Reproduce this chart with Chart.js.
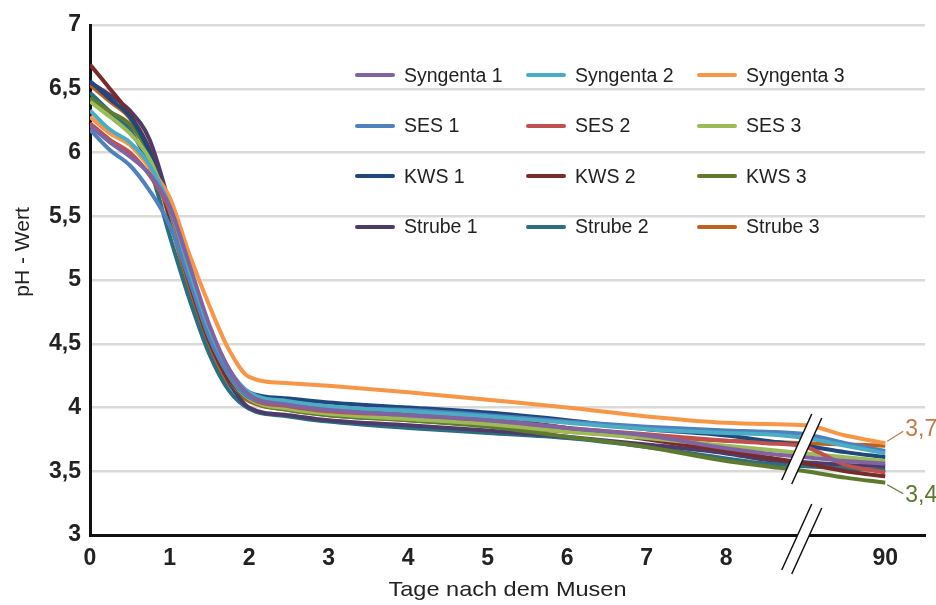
<!DOCTYPE html>
<html lang="de">
<head>
<meta charset="UTF-8">
<title>pH - Wert</title>
<script src="https://cdn.jsdelivr.net/npm/chart.js@4.4.1/dist/chart.umd.min.js"></script>
<style>
    body { margin: 0; padding: 0; background: #fff; }
    #wrap { position: relative; width: 936px; height: 605px; }
    #legend { position: absolute; left: 0; top: 0; width: 936px; height: 605px; pointer-events: none;
              font-family: "Liberation Sans", Arial, sans-serif; font-size: 19.5px; color: #222; }
    #legend .item { position: absolute; display: flex; align-items: center; white-space: nowrap; }
    #legend .swatch { width: 40px; height: 4px; border-radius: 2px; margin-right: 9px; }
</style>
</head>
<body>
<div id="wrap">
    <canvas id="myChart" width="936" height="605"></canvas>
    <div id="legend"></div>
</div>
<script>
    // x position on the broken axis: 0..8 days, 10 stands for day 90
    const dayPos = [0, 0.25, 0.5, 0.75, 1, 1.25, 1.5, 1.75, 2, 2.5, 3, 4, 5, 6, 7, 8, 8.5, 9, 9.5, 10];

    const syngenta1 = [6.21, 6.08, 5.97, 5.83, 5.58, 5.12, 4.65, 4.30, 4.10, 4.02, 3.98, 3.94, 3.90, 3.84, 3.78, 3.68, 3.64, 3.61, 3.58, 3.56];
    const syngenta2 = [6.33, 6.18, 6.08, 5.90, 5.58, 5.08, 4.62, 4.30, 4.12, 4.05, 4.01, 3.97, 3.93, 3.88, 3.83, 3.80, 3.79, 3.76, 3.70, 3.64];
    const syngenta3 = [6.28, 6.15, 6.06, 5.88, 5.65, 5.20, 4.80, 4.45, 4.24, 4.19, 4.17, 4.12, 4.06, 4.00, 3.93, 3.88, 3.87, 3.86, 3.78, 3.72];
    const ses1 = [6.18, 6.02, 5.90, 5.70, 5.43, 5.00, 4.55, 4.25, 4.08, 4.03, 4.00, 3.98, 3.94, 3.89, 3.85, 3.82, 3.81, 3.79, 3.72, 3.66];
    const ses2 = [6.23, 6.10, 6.00, 5.82, 5.55, 5.05, 4.60, 4.27, 4.08, 4.01, 3.97, 3.94, 3.90, 3.84, 3.79, 3.74, 3.72, 3.69, 3.55, 3.49];
    const ses3 = [6.40, 6.28, 6.15, 5.95, 5.55, 5.02, 4.58, 4.25, 4.07, 3.99, 3.95, 3.91, 3.87, 3.81, 3.76, 3.70, 3.67, 3.64, 3.61, 3.58];
    const kws1 = [6.56, 6.42, 6.28, 6.00, 5.52, 5.00, 4.57, 4.26, 4.12, 4.07, 4.04, 4.00, 3.96, 3.90, 3.83, 3.78, 3.74, 3.70, 3.65, 3.61];
    const kws2 = [6.69, 6.50, 6.30, 6.02, 5.50, 4.98, 4.52, 4.22, 4.10, 4.03, 3.99, 3.96, 3.92, 3.84, 3.75, 3.66, 3.61, 3.56, 3.50, 3.46];
    const kws3 = [6.43, 6.32, 6.22, 5.98, 5.52, 5.00, 4.55, 4.22, 4.06, 3.98, 3.94, 3.90, 3.85, 3.77, 3.69, 3.58, 3.54, 3.50, 3.45, 3.41];
    const strube1 = [6.55, 6.45, 6.33, 6.10, 5.60, 5.05, 4.55, 4.20, 4.00, 3.94, 3.90, 3.86, 3.82, 3.77, 3.71, 3.64, 3.59, 3.57, 3.55, 3.54];
    const strube2 = [6.47, 6.32, 6.18, 5.88, 5.35, 4.85, 4.42, 4.13, 3.99, 3.93, 3.89, 3.84, 3.80, 3.76, 3.69, 3.60, 3.56, 3.54, 3.52, 3.51];
    const strube3 = [6.53, 6.40, 6.27, 5.98, 5.48, 4.92, 4.48, 4.18, 4.05, 3.98, 3.94, 3.90, 3.86, 3.81, 3.77, 3.74, 3.73, 3.72, 3.71, 3.70];

    const seriesNames = ['Syngenta 1', 'Syngenta 2', 'Syngenta 3', 'SES 1', 'SES 2', 'SES 3',
                         'KWS 1', 'KWS 2', 'KWS 3', 'Strube 1', 'Strube 2', 'Strube 3'];
    const seriesValues = [syngenta1, syngenta2, syngenta3, ses1, ses2, ses3, kws1, kws2, kws3, strube1, strube2, strube3];
    const seriesColors = ['#8064a2', '#4bacc6', '#f79646', '#4f81bd', '#c0504d', '#9bbb59',
                          '#1f497d', '#772c2a', '#5f7a2e', '#4d3b6b', '#2a6f80', '#c0601a'];

    const xTickPos = [0, 1, 2, 3, 4, 5, 6, 7, 8, 10];
    const xTickLabels = ['0', '1', '2', '3', '4', '5', '6', '7', '8', '90'];
    const xTitle = 'Tage nach dem Musen';
    const yTitle = 'pH - Wert';
    const endLabels = [{ text: '3,7', value: 3.72, color: '#c47a45' }, { text: '3,4', value: 3.41, color: '#5b7a2a' }];

    const fontFamily = '"Liberation Sans", Arial, sans-serif';

    const datasets = seriesNames.map((name, i) => ({
        label: name,
        data: seriesValues[i].map((v, j) => ({ x: dayPos[j], y: v })),
        borderColor: seriesColors[i],
        backgroundColor: seriesColors[i],
        borderWidth: 4,
        pointRadius: 0,
        cubicInterpolationMode: 'monotone',
        fill: false
    }));

    // axis break marks, axis titles and end value labels
    const extras = {
        id: 'extras',
        afterDraw(chart) {
            const ctx = chart.ctx;
            const x = chart.scales.x, y = chart.scales.y;
            const area = chart.chartArea;
            ctx.save();

            // axis titles
            ctx.fillStyle = '#222';
            ctx.textAlign = 'center';
            ctx.textBaseline = 'middle';
            ctx.font = '21px ' + fontFamily;
            ctx.save();
            ctx.translate((area.left + area.right) / 2, 590);
            ctx.scale(1.12, 1);
            ctx.fillText(xTitle, 0, 0);
            ctx.restore();
            ctx.save();
            ctx.translate(23, 252);
            ctx.rotate(-Math.PI / 2);
            ctx.fillText(yTitle, 0, 0);
            ctx.restore();

            // break marks
            const bx = x.getPixelForValue(8.95);
            const drawBreak = (cy, h) => {
                const a1 = [bx + 10, cy - h], a2 = [bx - 20, cy + h];
                const b1 = [a1[0] + 10, a1[1] + 4], b2 = [a2[0] + 10, a2[1] + 4];
                ctx.beginPath();
                ctx.moveTo(a1[0], a1[1]); ctx.lineTo(b1[0], b1[1]);
                ctx.lineTo(b2[0], b2[1]); ctx.lineTo(a2[0], a2[1]);
                ctx.closePath();
                ctx.fillStyle = '#fff';
                ctx.fill();
                ctx.strokeStyle = '#111';
                ctx.lineWidth = 1.5;
                ctx.beginPath();
                ctx.moveTo(a1[0], a1[1]); ctx.lineTo(a2[0], a2[1]);
                ctx.moveTo(b1[0], b1[1]); ctx.lineTo(b2[0], b2[1]);
                ctx.stroke();
            };
            drawBreak(y.getPixelForValue(3.69), 33);
            drawBreak(y.getPixelForValue(3) + 2, 33);

            // end labels at day 90
            const ex = x.getPixelForValue(10);
            ctx.textAlign = 'left';
            ctx.font = '23px ' + fontFamily;
            endLabels.forEach((lab, i) => {
                const py = y.getPixelForValue(lab.value);
                const ty = i === 0 ? py - 14 : py + 13;
                ctx.strokeStyle = lab.color;
                ctx.lineWidth = 1.2;
                ctx.beginPath();
                ctx.moveTo(ex + 2, py + (i === 0 ? -2 : 2));
                ctx.lineTo(ex + 18, ty + (i === 0 ? 2 : -2));
                ctx.stroke();
                ctx.fillStyle = lab.color;
                ctx.fillText(lab.text, ex + 20, ty);
            });
            ctx.restore();
        }
    };

    const ctx = document.getElementById('myChart').getContext('2d');
    const myChart = new Chart(ctx, {
        type: 'line',
        data: { datasets: datasets },
        options: {
            responsive: false,
            animation: false,
            layout: { padding: { top: 25, right: 11, left: 0, bottom: 0 } },
            plugins: { legend: { display: false }, tooltip: { enabled: false } },
            scales: {
                x: {
                    type: 'linear',
                    min: 0,
                    max: 10.5,
                    afterFit(s) { s.height = 70; },
                    afterBuildTicks(s) { s.ticks = xTickPos.map(v => ({ value: v })); },
                    grid: { display: false, drawTicks: false },
                    border: { color: '#111', width: 3 },
                    ticks: {
                        autoSkip: false,
                        maxRotation: 0,
                        padding: 10,
                        color: '#222',
                        font: { size: 23, weight: 'bold', family: fontFamily },
                        callback: (v) => xTickLabels[xTickPos.indexOf(v)]
                    }
                },
                y: {
                    min: 3,
                    max: 7,
                    afterFit(s) { s.width = 90; },
                    grid: { color: '#dcdad8', lineWidth: 2.5, drawTicks: false },
                    border: { color: '#111', width: 3 },
                    ticks: {
                        stepSize: 0.5,
                        padding: 9,
                        color: '#222',
                        font: { size: 23, weight: 'bold', family: fontFamily },
                        callback: (v) => String(v).replace('.', ',')
                    }
                }
            }
        },
        plugins: [extras]
    });

    // legend, three columns
    const legend = document.getElementById('legend');
    seriesNames.forEach((name, i) => {
        const item = document.createElement('div');
        item.className = 'item';
        item.style.left = (355 + (i % 3) * 171) + 'px';
        item.style.top = (75 + Math.floor(i / 3) * 50.6 - 12) + 'px';
        item.style.height = '24px';
        item.innerHTML = '<span class="swatch" style="background:' + seriesColors[i] + '"></span>' + name;
        legend.appendChild(item);
    });
</script>
</body>
</html>
